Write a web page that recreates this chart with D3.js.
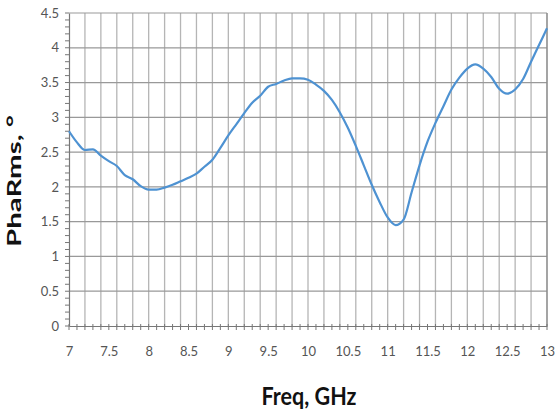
<!DOCTYPE html>
<html><head><meta charset="utf-8">
<script src="https://cdn.jsdelivr.net/npm/d3@7"></script>
<style>body{margin:0;background:#fff}svg{display:block}</style>
</head><body>
<script>
const freqs = [7.0,7.1,7.2,7.3,7.4,7.5,7.6,7.7,7.8,7.9,8.0,8.1,8.2,8.3,8.4,8.5,8.6,8.7,8.8,8.9,9.0,9.1,9.2,9.3,9.4,9.5,9.6,9.7,9.8,9.9,10.0,10.1,10.2,10.3,10.4,10.5,10.6,10.7,10.8,10.9,11.0,11.1,11.2,11.3,11.4,11.5,11.6,11.7,11.8,11.9,12.0,12.1,12.2,12.3,12.4,12.5,12.6,12.7,12.8,12.9,13.0];
const phaRms = [2.80,2.64,2.53,2.54,2.45,2.37,2.30,2.17,2.11,2.01,1.96,1.96,1.99,2.03,2.08,2.13,2.19,2.29,2.39,2.56,2.74,2.90,3.06,3.21,3.31,3.44,3.48,3.53,3.56,3.56,3.54,3.47,3.38,3.25,3.07,2.85,2.59,2.31,2.03,1.78,1.56,1.45,1.53,1.92,2.31,2.65,2.92,3.16,3.40,3.57,3.70,3.76,3.70,3.58,3.41,3.34,3.40,3.55,3.80,4.04,4.28];
const xTicks = [7,7.5,8,8.5,9,9.5,10,10.5,11,11.5,12,12.5,13];
const yTicks = [0,0.5,1,1.5,2,2.5,3,3.5,4,4.5];

const W=555,H=415;
const m={l:69,r:8,t:13,b:89};
const svg=d3.select("body").append("svg").attr("width",W).attr("height",H);
const x=d3.scaleLinear().domain([7,13]).range([m.l,W-m.r]);
const y=d3.scaleLinear().domain([0,4.5]).range([H-m.b,m.t]);
const font="Lato, 'Open Sans', sans-serif";

// vertical grid every 0.2
const vgrid=d3.range(7.2,13.0001,0.2).map(v=>+v.toFixed(1));
svg.append("g").selectAll("line").data(vgrid).join("line")
 .attr("x1",d=>x(d)).attr("x2",d=>x(d)).attr("y1",y(0)).attr("y2",y(4.5))
 .attr("stroke","#b5b5b5").attr("stroke-width",1.3);
// horizontal grid
svg.append("g").selectAll("line").data(yTicks.slice(1)).join("line")
 .attr("x1",x(7)).attr("x2",x(13)).attr("y1",d=>y(d)).attr("y2",d=>y(d))
 .attr("stroke","#999").attr("stroke-width",1.2);
// right border
svg.append("line").attr("x1",x(13)).attr("x2",x(13)).attr("y1",y(0)).attr("y2",y(4.5)).attr("stroke","#888").attr("stroke-width",1.2);

// y axis
const yAxis=d3.axisLeft(y).tickValues(yTicks).tickSize(0).tickPadding(10).tickFormat(d3.format("~g"));
const gy=svg.append("g").attr("transform",`translate(${x(7)},0)`).call(yAxis);
gy.select(".domain").attr("stroke","#777").attr("stroke-width",1.2);
gy.selectAll("text").attr("font-family",font).attr("font-size",13).attr("fill","#555");
const yMinor=d3.range(0,4.5001,0.1).map(v=>+v.toFixed(1));
svg.append("g").selectAll("line").data(yMinor).join("line")
 .attr("x1",x(7)-4).attr("x2",x(7)).attr("y1",d=>y(d)).attr("y2",d=>y(d))
 .attr("stroke","#777");

// x axis
const xAxis=d3.axisBottom(x).tickValues(xTicks).tickSize(0).tickPadding(21).tickFormat(d3.format("~g"));
const gx=svg.append("g").attr("transform",`translate(0,${y(0)})`).call(xAxis);
gx.select(".domain").attr("stroke","#777").attr("stroke-width",1.2);
gx.selectAll("text").attr("font-family",font).attr("font-size",13).attr("fill","#555");
const xMinor=d3.range(7,13.0001,0.1).map(v=>+v.toFixed(1));
svg.append("g").selectAll("line").data(xMinor).join("line")
 .attr("x1",d=>x(d)).attr("x2",d=>x(d)).attr("y1",y(0)-2).attr("y2",y(0)+4)
 .attr("stroke","#777");

// data line
svg.append("path").datum(freqs.map((f,i)=>[f,phaRms[i]]))
 .attr("fill","none").attr("stroke","#4e92d2").attr("stroke-width",2.2)
 .attr("stroke-linejoin","round")
 .attr("d",d3.line().x(d=>x(d[0])).y(d=>y(d[1])).curve(d3.curveMonotoneX));

// titles
svg.append("text").attr("x",309).attr("y",405).attr("text-anchor","middle")
 .attr("font-family",font).attr("font-weight","bold").attr("font-size",24).attr("fill","#111")
 .attr("textLength",95).attr("lengthAdjust","spacingAndGlyphs").text("Freq, GHz");
svg.append("text").attr("transform","translate(21,181) rotate(-90)").attr("text-anchor","middle")
 .attr("font-family",font).attr("font-weight","bold").attr("font-size",18).attr("fill","#111")
 .attr("textLength",132).attr("lengthAdjust","spacingAndGlyphs").text("PhaRms, °");
</script>
</body></html>
